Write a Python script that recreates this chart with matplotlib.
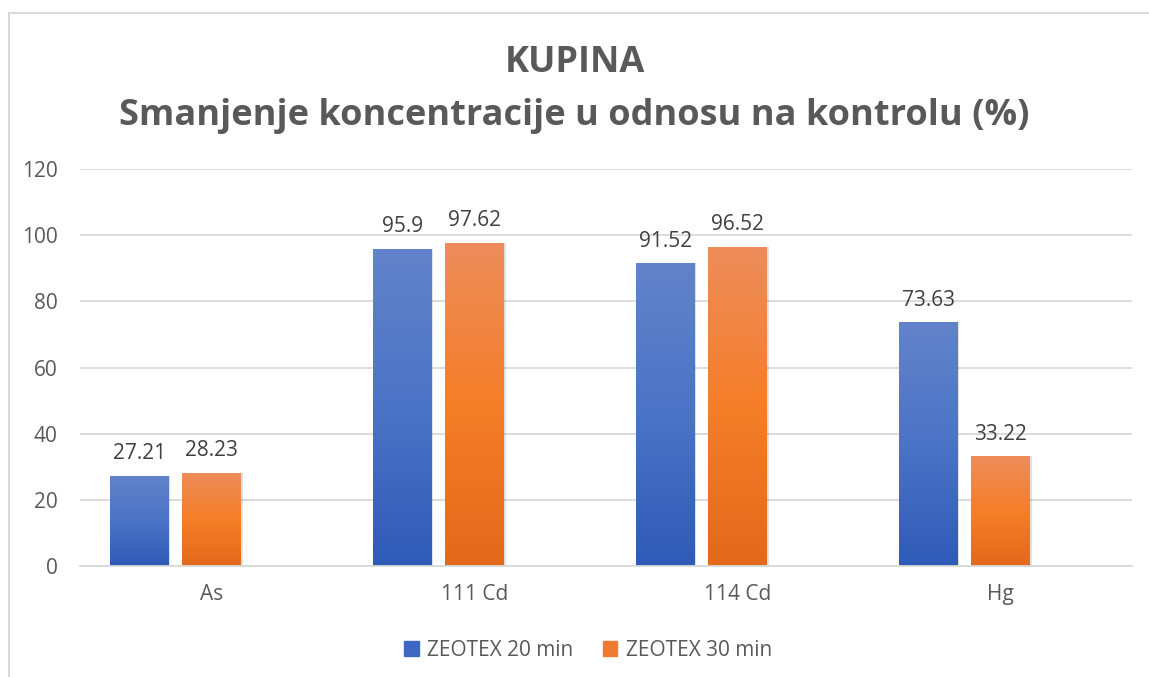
import matplotlib.pyplot as plt
import numpy as np
from matplotlib.colors import LinearSegmentedColormap

plt.rcParams['font.family'] = ['Open Sans', 'DejaVu Sans']

categories = ["As", "111 Cd", "114 Cd", "Hg"]
zeotex_20 = [27.21, 95.9, 91.52, 73.63]
zeotex_30 = [28.23, 97.62, 96.52, 33.22]
labels_20 = ["27.21", "95.9", "91.52", "73.63"]
labels_30 = ["28.23", "97.62", "96.52", "33.22"]
series_names = ["ZEOTEX 20 min", "ZEOTEX 30 min"]

fig = plt.figure(figsize=(11.49, 6.77), dpi=100)
# outer chart border (Excel chart area)
fig.patches.append(plt.Rectangle((9 / 1149, -0.05), 1.2, 1 - 13 / 677 + 0.05,
                                 transform=fig.transFigure, fill=False,
                                 edgecolor="#d9d9d9", linewidth=1.5))

ax = fig.add_axes([80 / 1149, 111 / 677, 1052 / 1149, 397 / 677])

x = np.arange(len(categories))
w = 0.224
off = 0.274

blue_cmap = LinearSegmentedColormap.from_list("b", ["#2e5bb8", "#4a74c6", "#6283cb"])
orange_cmap = LinearSegmentedColormap.from_list("o", ["#e3691b", "#f57e28", "#ee8c5a"])

b1 = ax.bar(x - off, zeotex_20, w, color="#4472c4", zorder=2, label=series_names[0])
b2 = ax.bar(x, zeotex_30, w, color="#ed7d31", zorder=2, label=series_names[1])

grad = np.linspace(0, 1, 256).reshape(-1, 1)
for bars, cmap in ((b1, blue_cmap), (b2, orange_cmap)):
    for p in bars:
        x0, y0 = p.get_x(), p.get_y()
        # soft shadow on the right
        ax.add_patch(plt.Rectangle((x0 + 0.006, y0), p.get_width(), p.get_height(),
                                   color="#000000", alpha=0.12, zorder=1.9, linewidth=0))
        im = ax.imshow(grad, cmap=cmap, origin="lower", aspect="auto", zorder=2.1,
                       extent=(x0, x0 + p.get_width(), y0, y0 + p.get_height()))
        im.set_clip_path(p)

for bars, labs in ((b1, labels_20), (b2, labels_30)):
    for p, t in zip(bars, labs):
        ax.text(p.get_x() + p.get_width() / 2, p.get_height() + 3.5, t,
                ha="center", va="bottom", fontsize=15, color="#404040")

ax.set_xlim(-0.5, len(categories) - 0.5)
ax.set_ylim(0, 120)
ax.set_yticks(range(0, 121, 20))
ax.set_xticks(x)
ax.set_xticklabels(categories)
ax.grid(axis="y", color="#d9d9d9", linewidth=1.3, zorder=0)
ax.set_axisbelow(True)
for s in ["top", "right", "left"]:
    ax.spines[s].set_visible(False)
ax.spines["bottom"].set_color("#d9d9d9")
ax.spines["bottom"].set_linewidth(1.3)
ax.tick_params(axis="both", length=0, labelsize=15, labelcolor="#595959")
ax.tick_params(axis="x", pad=13)
ax.tick_params(axis="y", pad=16)

fig.text(0.5, 1 - 63 / 677, "KUPINA", ha="center", va="center",
         fontsize=26, fontweight="bold", color="#595959")
fig.text(0.5, 1 - 116 / 677, "Smanjenje koncentracije u odnosu na kontrolu (%)",
         ha="center", va="center", fontsize=26, fontweight="bold", color="#595959")

leg = fig.legend(handles=[b1, b2], labels=series_names, loc="center",
                 bbox_to_anchor=(588 / 1149, 1 - 650 / 677), ncol=2, frameon=False,
                 fontsize=15, handlelength=0.7, handleheight=0.7,
                 handletextpad=0.4, columnspacing=1.4, labelcolor="#595959")
leg.legend_handles[0].set_color("#3d68c2")
leg.legend_handles[1].set_color("#f07a30")

fig.savefig("out.png", dpi=100)
